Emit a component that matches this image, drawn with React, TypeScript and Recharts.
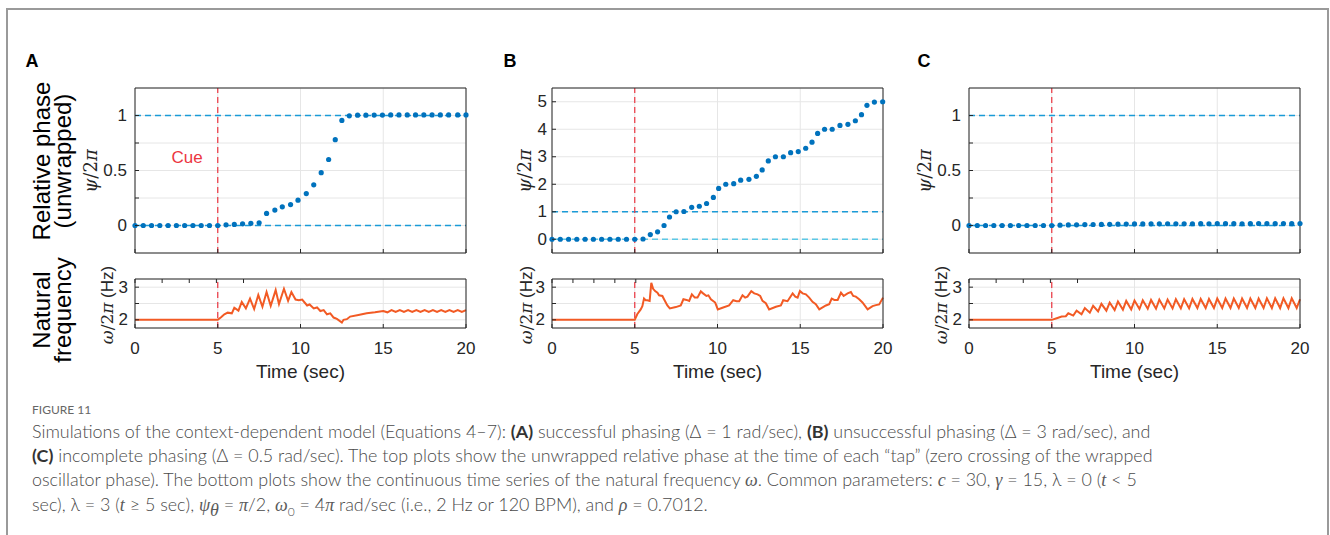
import React from "react";
import { ScatterChart, Scatter, LineChart, Line, XAxis, YAxis, CartesianGrid, ReferenceLine } from "recharts";

// ---- top plots: time of each tap (sec) and unwrapped relative phase psi/2pi
const tapTimeA = [0, 0.5, 1, 1.5, 2, 2.5, 3, 3.5, 4, 4.5, 5, 5.5, 6, 6.5, 7, 7.5, 7.95, 8.45, 8.9, 9.4, 9.85, 10.35, 10.8, 11.25, 11.7, 12.1, 12.5, 12.95, 13.45, 13.95, 14.45, 14.95, 15.45, 15.95, 16.45, 16.95, 17.45, 17.95, 18.45, 18.95, 19.5, 20];
const phaseA = [0, 0, 0, 0, 0, 0, 0, 0, 0, 0, 0, 0.006, 0.01, 0.015, 0.02, 0.025, 0.11, 0.14, 0.17, 0.19, 0.23, 0.29, 0.37, 0.48, 0.6, 0.78, 0.955, 0.997, 1.003, 1.003, 1.004, 1.004, 1.005, 1.005, 1.005, 1.005, 1.005, 1.005, 1.005, 1.005, 1.005, 1.005];

const tapTimeB = [0, 0.5, 1, 1.5, 2, 2.5, 3, 3.5, 4, 4.5, 5, 5.5, 5.94, 6.38, 6.77, 7.1, 7.5, 7.97, 8.44, 8.9, 9.34, 9.75, 10.07, 10.5, 10.98, 11.4, 11.9, 12.35, 12.7, 13.07, 13.5, 13.98, 14.42, 14.88, 15.33, 15.71, 16.05, 16.47, 16.93, 17.4, 17.88, 18.33, 18.7, 19.03, 19.48, 19.98];
const phaseB = [0, 0, 0, 0, 0, 0, 0, 0, 0, 0, 0, 0.01, 0.17, 0.27, 0.5, 0.81, 1.0, 1.01, 1.16, 1.2, 1.3, 1.52, 1.85, 2.0, 2.02, 2.15, 2.18, 2.29, 2.52, 2.85, 3.0, 3.0, 3.15, 3.19, 3.31, 3.53, 3.85, 4.0, 4.0, 4.14, 4.18, 4.31, 4.53, 4.87, 4.99, 5.0];

const tapTimeC = [0, 0.5, 1, 1.5, 2, 2.5, 3, 3.5, 4, 4.5, 5, 5.5, 6, 6.5, 7, 7.5, 8, 8.5, 9, 9.5, 10, 10.5, 11, 11.5, 12, 12.5, 13, 13.5, 14, 14.5, 15, 15.5, 16, 16.5, 17, 17.5, 18, 18.5, 19, 19.5, 20];
const phaseC = [0, 0, 0, 0, 0, 0, 0, 0, 0, 0, 0, 0.003, 0.005, 0.006, 0.008, 0.009, 0.01, 0.011, 0.012, 0.013, 0.014, 0.014, 0.015, 0.015, 0.016, 0.015, 0.016, 0.016, 0.017, 0.016, 0.017, 0.017, 0.017, 0.016, 0.017, 0.018, 0.017, 0.017, 0.018, 0.017, 0.018];

// ---- bottom plots: natural frequency omega/2pi (Hz)
const freqTimeA = [0, 5, 5.2, 5.4, 5.6, 5.85, 6.0, 6.25, 6.45, 6.7, 6.95, 7.2, 7.45, 7.7, 7.95, 8.2, 8.5, 8.7, 9.0, 9.25, 9.45, 9.7, 9.9, 10.1, 10.4, 10.55, 10.8, 11.0, 11.2, 11.4, 11.6, 11.8, 12.0, 12.2, 12.5, 12.6, 12.8, 13.0, 13.5, 14.0, 14.5, 15.0, 15.25, 15.5, 15.75, 16, 16.25, 16.5, 16.75, 17, 17.25, 17.5, 17.75, 18, 18.25, 18.5, 18.75, 19, 19.25, 19.5, 19.75, 20];
const freqA = [2.0, 2.0, 2.08, 2.17, 2.22, 2.2, 2.37, 2.28, 2.55, 2.35, 2.65, 2.33, 2.76, 2.4, 2.85, 2.43, 2.91, 2.48, 2.95, 2.58, 2.85, 2.62, 2.6, 2.62, 2.44, 2.47, 2.35, 2.38, 2.27, 2.3, 2.17, 2.2, 2.07, 2.03, 1.92, 2.0, 2.02, 2.1, 2.15, 2.2, 2.23, 2.27, 2.23, 2.3, 2.24, 2.3, 2.24, 2.3, 2.24, 2.3, 2.24, 2.3, 2.24, 2.3, 2.24, 2.3, 2.24, 2.3, 2.24, 2.3, 2.24, 2.3];

const freqTimeB = [0, 5.0, 5.15, 5.36, 5.46, 5.56, 5.66, 5.76, 5.9, 6.0, 6.11, 6.23, 6.37, 6.47, 6.67, 6.77, 6.97, 7.12, 7.48, 7.78, 7.94, 8.13, 8.29, 8.45, 8.63, 8.79, 8.99, 9.13, 9.33, 9.45, 9.6, 9.86, 10.02, 10.3, 10.7, 10.95, 11.15, 11.31, 11.51, 11.67, 11.81, 12.04, 12.22, 12.42, 12.58, 12.72, 12.92, 13.12, 13.53, 13.83, 13.97, 14.23, 14.54, 14.7, 14.84, 14.98, 15.14, 15.34, 15.54, 15.74, 15.94, 16.15, 16.55, 16.75, 16.9, 17.06, 17.26, 17.46, 17.62, 17.86, 18.06, 18.2, 18.36, 18.56, 18.76, 19.07, 19.37, 19.57, 19.77, 20.0];
const freqB = [2.0, 2.0, 2.17, 2.32, 2.42, 2.65, 2.6, 2.6, 2.58, 3.13, 2.95, 2.88, 2.83, 2.75, 2.73, 2.63, 2.44, 2.35, 2.39, 2.44, 2.63, 2.61, 2.58, 2.78, 2.68, 2.68, 2.87, 2.81, 2.73, 2.75, 2.63, 2.53, 2.32, 2.37, 2.44, 2.6, 2.57, 2.57, 2.75, 2.68, 2.71, 2.88, 2.81, 2.78, 2.73, 2.58, 2.51, 2.32, 2.4, 2.44, 2.6, 2.57, 2.81, 2.71, 2.68, 2.88, 2.81, 2.78, 2.68, 2.55, 2.48, 2.32, 2.44, 2.48, 2.65, 2.61, 2.61, 2.83, 2.73, 2.81, 2.85, 2.73, 2.71, 2.63, 2.53, 2.32, 2.42, 2.45, 2.47, 2.68];

const freqTimeC = [0, 5, 5.3, 5.6, 5.85, 6.0, 6.3, 6.5, 6.8, 7.0, 7.3, 7.5, 7.8, 8.0, 8.3, 8.5, 8.8, 9.0, 9.3, 9.5, 9.8, 10.0, 10.3, 10.5, 10.8, 11.0, 11.3, 11.5, 11.8, 12.0, 12.3, 12.5, 12.8, 13.0, 13.3, 13.5, 13.8, 14.0, 14.3, 14.5, 14.8, 15.0, 15.3, 15.5, 15.8, 16.0, 16.3, 16.5, 16.8, 17.0, 17.3, 17.5, 17.8, 18.0, 18.3, 18.5, 18.8, 19.0, 19.3, 19.5, 19.8, 20.0];
const freqC = [2.0, 2.0, 2.05, 2.1, 2.11, 2.2, 2.13, 2.28, 2.17, 2.36, 2.22, 2.43, 2.26, 2.49, 2.28, 2.53, 2.3, 2.56, 2.31, 2.58, 2.32, 2.59, 2.33, 2.6, 2.34, 2.61, 2.34, 2.62, 2.35, 2.62, 2.35, 2.63, 2.35, 2.63, 2.35, 2.64, 2.36, 2.64, 2.36, 2.64, 2.36, 2.65, 2.36, 2.65, 2.36, 2.65, 2.36, 2.65, 2.36, 2.65, 2.36, 2.65, 2.36, 2.66, 2.36, 2.66, 2.36, 2.66, 2.36, 2.66, 2.36, 2.63];

// ---- axes
const timeTicks = [0, 5, 10, 15, 20];
const phaseTicksAC = [0, 0.25, 0.5, 0.75, 1];
const phaseLabelsAC = ["0", "", "0.5", "", "1"];
const phaseTicksB = [0, 1, 2, 3, 4, 5];
const phaseLabelsB = ["0", "1", "2", "3", "4", "5"];
const freqTicks = [2, 2.5, 3];
const freqLabels = ["2", "", "3"];

const INK = "#262626";
const GRID = "#e6e6e6";
const DOT = "#0072bd";
const LINE = "#f25a24";
const RED = "#ec3641";
const BLUE = "#1a9bd7";
const SANS = "'Liberation Sans', Arial, sans-serif";
const SERIF = "'DejaVu Serif', 'Liberation Serif', serif";
const CAPTION = "Lato, 'Open Sans', sans-serif";

const PW = 331;
const AXW = 60;
const RW = 16;
const TICK_FS = 17;

const zip = (t: number[], v: number[], key: string) => t.map((x, i) => ({ t: x, [key]: v[i] }));

function labelMap(ticks: number[], labels: string[]) {
  const m: Record<string, string> = {};
  ticks.forEach((t, i) => (m[String(t)] = labels[i]));
  return m;
}

// inward tick marks like the MATLAB box, labels outside
const leftTick = (labels: Record<string, string>, margin: number) => (props: any) => {
  const { x, y, payload } = props;
  const ax = x + margin;
  const lab = labels[String(payload.value)];
  return (
    <g>
      <line x1={ax} x2={ax + 4} y1={y} y2={y} stroke={INK} />
      {lab ? (
        <text x={x} y={y} textAnchor="end" dominantBaseline="central" fontFamily={SANS} fontSize={TICK_FS} fill={INK}>
          {lab}
        </text>
      ) : null}
    </g>
  );
};
const bottomTick = (showLabels: boolean, margin: number) => (props: any) => {
  const { x, y, payload } = props;
  const ay = y - margin;
  return (
    <g>
      <line x1={x} x2={x} y1={ay} y2={ay - 4} stroke={INK} />
      {showLabels ? (
        <text x={x} y={y} textAnchor="middle" dominantBaseline="central" fontFamily={SANS} fontSize={TICK_FS} fill={INK}>
          {payload.value}
        </text>
      ) : null}
    </g>
  );
};
const topTick = (props: any) => <line x1={props.x} x2={props.x} y1={props.y} y2={props.y + 4} stroke={INK} />;
const rightTick = (props: any) => <line x1={props.x - 4} x2={props.x} y1={props.y} y2={props.y} stroke={INK} />;

const dotShape = (props: any) => <circle cx={props.cx} cy={props.cy} r={2.6} fill={DOT} />;

const panels = [
  {
    id: "A",
    letterX: 32,
    plotLeft: 135,
    taps: zip(tapTimeA, phaseA, "p"),
    freq: zip(freqTimeA, freqA, "f"),
    phaseDomain: [-0.25, 1.25],
    phaseTicks: phaseTicksAC,
    phaseLabels: labelMap(phaseTicksAC, phaseLabelsAC),
    labelGap: 8,
    zeroColor: BLUE,
    psiX: 91,
    omegaX: 107,
  },
  {
    id: "B",
    letterX: 510,
    plotLeft: 552,
    taps: zip(tapTimeB, phaseB, "p"),
    freq: zip(freqTimeB, freqB, "f"),
    phaseDomain: [-0.5, 5.5],
    phaseTicks: phaseTicksB,
    phaseLabels: labelMap(phaseTicksB, phaseLabelsB),
    labelGap: 5,
    zeroColor: "#5cc8e6",
    psiX: 525,
    omegaX: 526,
  },
  {
    id: "C",
    letterX: 924,
    plotLeft: 969,
    taps: zip(tapTimeC, phaseC, "p"),
    freq: zip(freqTimeC, freqC, "f"),
    phaseDomain: [-0.25, 1.25],
    phaseTicks: phaseTicksAC,
    phaseLabels: labelMap(phaseTicksAC, phaseLabelsAC),
    labelGap: 8,
    zeroColor: BLUE,
    psiX: 925,
    omegaX: 941,
  },
];

function Rot({ x, y, size, lh, color, family, children }: any) {
  return (
    <div
      style={{
        position: "absolute",
        left: x,
        top: y,
        transform: "translate(-50%, -50%) rotate(-90deg)",
        whiteSpace: "nowrap",
        textAlign: "center",
        fontSize: size,
        lineHeight: `${lh}px`,
        color: color || "#000",
        fontFamily: family || SANS,
      }}
    >
      {children}
    </div>
  );
}

function Txt({ x, y, size, color, bold, children }: any) {
  return (
    <div
      style={{
        position: "absolute",
        left: x,
        top: y,
        transform: "translate(-50%, -50%)",
        whiteSpace: "nowrap",
        fontSize: size,
        color: color || INK,
        fontWeight: bold ? 700 : 400,
        fontFamily: SANS,
      }}
    >
      {children}
    </div>
  );
}

function PhasePlot({ p }: any) {
  return (
    <div style={{ position: "absolute", left: p.plotLeft - AXW, top: 87 }}>
      <ScatterChart width={AXW + PW + RW} height={171} margin={{ top: 0, right: 0, bottom: 0, left: 0 }}>
        <CartesianGrid stroke={GRID} />
        <XAxis type="number" dataKey="t" domain={[0, 20]} ticks={timeTicks} interval={0} height={5} tickSize={0} tickMargin={0} tickLine={false} axisLine={{ stroke: INK }} tick={bottomTick(false, 0)} />
        <XAxis xAxisId="top" orientation="top" type="number" domain={[0, 20]} ticks={timeTicks} interval={0} height={1} tickSize={0} tickMargin={0} tickLine={false} axisLine={{ stroke: INK }} tick={topTick} />
        <YAxis type="number" dataKey="p" domain={p.phaseDomain} ticks={p.phaseTicks} interval={0} width={AXW} tickSize={0} tickMargin={p.labelGap} tickLine={false} axisLine={{ stroke: INK }} tick={leftTick(p.phaseLabels, p.labelGap)} />
        <YAxis yAxisId="right" orientation="right" type="number" domain={p.phaseDomain} ticks={p.phaseTicks} interval={0} width={RW} tickSize={0} tickMargin={0} tickLine={false} axisLine={{ stroke: INK }} tick={rightTick} />
        <ReferenceLine y={0} stroke={p.zeroColor} strokeWidth={1.3} strokeDasharray="6 4" />
        <ReferenceLine y={1} stroke={BLUE} strokeWidth={1.3} strokeDasharray="6 4" />
        <ReferenceLine x={5} stroke={RED} strokeWidth={1.2} strokeDasharray="6 4" />
        <Scatter data={p.taps} shape={dotShape} isAnimationActive={false} />
      </ScatterChart>
    </div>
  );
}

function FreqPlot({ p }: any) {
  return (
    <div style={{ position: "absolute", left: p.plotLeft - AXW, top: 278 }}>
      <LineChart width={AXW + PW + RW} height={80} data={p.freq} margin={{ top: 0, right: 0, bottom: 0, left: 0 }}>
        <CartesianGrid stroke={GRID} />
        <XAxis type="number" dataKey="t" domain={[0, 20]} ticks={timeTicks} interval={0} height={30} tickSize={0} tickMargin={20} tickLine={false} axisLine={{ stroke: INK }} tick={bottomTick(true, 20)} />
        <XAxis xAxisId="top" orientation="top" type="number" domain={[0, 20]} ticks={timeTicks} interval={0} height={1} tickSize={0} tickMargin={0} tickLine={false} axisLine={{ stroke: INK }} tick={topTick} />
        <YAxis type="number" domain={[1.75, 3.25]} ticks={freqTicks} interval={0} width={AXW} tickSize={0} tickMargin={7} tickLine={false} axisLine={{ stroke: INK }} tick={leftTick(labelMap(freqTicks, freqLabels), 7)} />
        <YAxis yAxisId="right" orientation="right" type="number" domain={[1.75, 3.25]} ticks={freqTicks} interval={0} width={RW} tickSize={0} tickMargin={0} tickLine={false} axisLine={{ stroke: INK }} tick={rightTick} />
        <ReferenceLine x={5} stroke={RED} strokeWidth={1.2} strokeDasharray="6 4" />
        <Line type="linear" dataKey="f" stroke={LINE} strokeWidth={2} dot={false} isAnimationActive={false} />
      </LineChart>
    </div>
  );
}

const M = ({ children }: any) => <i style={{ fontFamily: "'Liberation Serif', serif", fontSize: 18, fontWeight: 400, color: "#5a5a5a" }}>{children}</i>;
const B = ({ children }: any) => <b style={{ fontWeight: 700, color: "#333" }}>{children}</b>;

export default function App() {
  return (
    <div style={{ position: "absolute", left: 0, top: 0, width: 1330, height: 535, background: "#fff", overflow: "hidden", fontFamily: SANS }}>
      <div style={{ position: "absolute", left: 6, top: 8, width: 1323, height: 600, border: "2px solid #9a9a9a", boxSizing: "border-box" }} />

      {panels.map((p) => (
        <React.Fragment key={p.id}>
          <Txt x={p.letterX} y={61} size={18} color="#000" bold>
            {p.id}
          </Txt>
          <PhasePlot p={p} />
          <FreqPlot p={p} />
          <Rot x={p.psiX} y={171} size={18} lh={18} color={INK} family={SERIF}>
            <i>ψ</i>/2<i>π</i>
          </Rot>
          <Rot x={p.omegaX} y={305} size={17} lh={17} color={INK}>
            <span style={{ fontFamily: SERIF }}>
              <i>ω</i>/2<i>π</i>
            </span>{" "}
            (Hz)
          </Rot>
          <Txt x={p.plotLeft + PW / 2} y={372} size={19}>
            Time (sec)
          </Txt>
        </React.Fragment>
      ))}

      <Txt x={187} y={158} size={17} color={RED}>
        Cue
      </Txt>
      <Rot x={52} y={161} size={24} lh={21}>
        Relative phase
        <br />
        (unwrapped)
      </Rot>
      <Rot x={52} y={310} size={24} lh={21}>
        Natural
        <br />
        frequency
      </Rot>

      <div style={{ position: "absolute", left: 32, top: 402, fontFamily: CAPTION, fontSize: 12, color: "#666" }}>FIGURE 11</div>
      <div style={{ position: "absolute", left: 32, top: 419, fontFamily: CAPTION, fontSize: 17.9, fontWeight: 300, lineHeight: "24px", color: "#4a4a4a", whiteSpace: "nowrap" }}>
        <div>
          Simulations of the context-dependent model (Equations 4–7): <B>(A)</B> successful phasing (Δ = 1 rad/sec), <B>(B)</B> unsuccessful phasing (Δ = 3 rad/sec), and
        </div>
        <div>
          <B>(C)</B> incomplete phasing (Δ = 0.5 rad/sec). The top plots show the unwrapped relative phase at the time of each “tap” (zero crossing of the wrapped
        </div>
        <div>
          oscillator phase). The bottom plots show the continuous time series of the natural frequency <M>ω</M>. Common parameters: <M>c</M> = 30, <M>γ</M> = 15, λ = 0 (<M>t</M> &lt; 5
        </div>
        <div>
          sec), λ = 3 (<M>t</M> ≥ 5 sec), <M>ψ</M>
          <sub style={{ fontSize: 12 }}>
            <M>θ</M>
          </sub>{" "}
          = <M>π</M>/2, <M>ω</M>
          <sub style={{ fontSize: 12 }}>0</sub> = 4<M>π</M> rad/sec (i.e., 2 Hz or 120 BPM), and <M>ρ</M> = 0.7012.
        </div>
      </div>
    </div>
  );
}
